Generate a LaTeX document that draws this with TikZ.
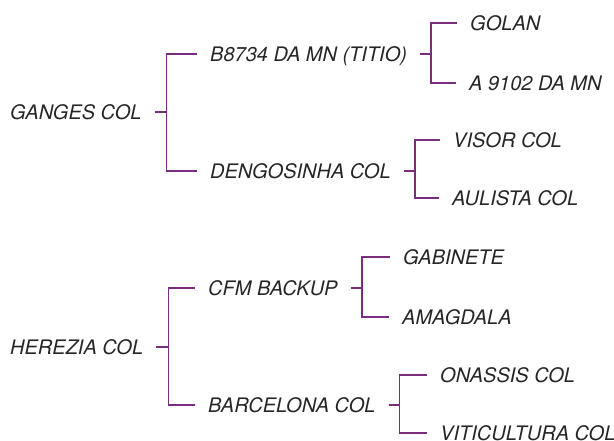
\documentclass[tikz,border=0pt]{standalone}
\usepackage{fontspec}
\setmainfont{TeX Gyre Heros}
\definecolor{plum}{RGB}{122,44,128}
\begin{document}
\begin{tikzpicture}[x=1pt,y=1pt]
        \tikzset{ItemStyle/.style={anchor=west, inner xsep=13pt, inner ysep=0pt,
            text height=14.4pt, text depth=0pt,
            font=\fontsize{20}{24}\selectfont\itshape, text=black!85}}
        \tikzset{BracketStyle/.style={draw=plum, line width=1.6pt}}
        \useasboundingbox (0,0) rectangle (614,441);
        % first tree
        \node[ItemStyle] (Ganges) at (-3,329) {GANGES COL};
        \node[ItemStyle] (Titio) at (197,387) {B8734 DA MN (TITIO)};
        \node[ItemStyle] (Dengo) at (197,270) {DENGOSINHA COL};
        \node[ItemStyle] (Golan) at (457,418) {GOLAN};
        \node[ItemStyle] (Mn) at (456,358) {A 9102 DA MN};
        \node[ItemStyle] (Visor) at (440,301) {VISOR COL};
        \node[ItemStyle] (Aulista) at (439,243) {AULISTA COL};
        % second tree
        \node[ItemStyle] (Herezia) at (-3,94) {HEREZIA COL};
        \node[ItemStyle] (Cfm) at (195,153) {CFM BACKUP};
        \node[ItemStyle] (Barca) at (195,36) {BARCELONA COL};
        \node[ItemStyle] (Gabinete) at (390,184) {GABINETE};
        \node[ItemStyle] (Amagdala) at (389,124) {AMAGDALA};
        \node[ItemStyle] (Onassis) at (427,66) {ONASSIS COL};
        \node[ItemStyle] (Viti) at (427,8) {VITICULTURA COL};
        % brackets
        \draw[BracketStyle] (Ganges.east) -- ++(12,0) coordinate (GangesJ) |- (Titio.west);
        \draw[BracketStyle] (GangesJ) |- (Dengo.west);
        \draw[BracketStyle] (Titio.east) -- ++(11,0) coordinate (TitioJ) |- (Golan.west);
        \draw[BracketStyle] (TitioJ) |- (Mn.west);
        \draw[BracketStyle] (Dengo.east) -- ++(11,0) coordinate (DengoJ) |- (Visor.west);
        \draw[BracketStyle] (DengoJ) |- (Aulista.west);
        \draw[BracketStyle] (Herezia.east) -- ++(12,0) coordinate (HereziaJ) |- (Cfm.west);
        \draw[BracketStyle] (HereziaJ) |- (Barca.west);
        \draw[BracketStyle] (Cfm.east) -- ++(11,0) coordinate (CfmJ) |- (Gabinete.west);
        \draw[BracketStyle] (CfmJ) |- (Amagdala.west);
        \draw[BracketStyle] (Barca.east) -- ++(11,0) coordinate (BarcaJ) |- (Onassis.west);
        \draw[BracketStyle] (BarcaJ) |- (Viti.west);
\end{tikzpicture}
\end{document}
